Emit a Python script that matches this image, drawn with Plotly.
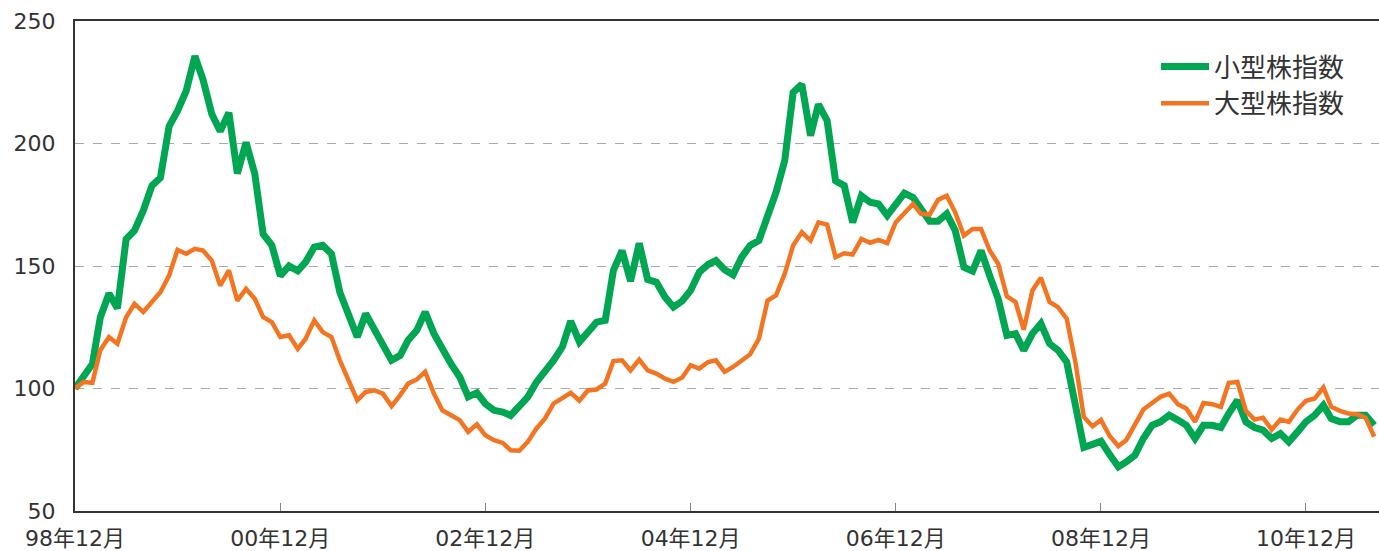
import pandas as pd
import plotly.graph_objects as go

# ---- data (monthly, Dec 1998 = 100) ----
start_month = "1998-12-01"
n_months = 153

small_cap = [
    100, 105, 110, 129, 138.8, 132.7, 161, 164.5, 172.6, 182.8,
    186, 207, 213.3, 221.5, 235.7, 226, 212, 205, 212.6, 187.7,
    200.4, 187.7, 163, 158.4, 146, 150, 148, 151.6, 157.7, 158.4,
    155, 139.3, 130, 121, 130.5, 124.5, 117.6, 111.5, 113.5, 119.7,
    123.7, 131.2, 122.4, 115.6, 110, 104.7, 96.6, 98.2, 93.8, 91.1,
    90.4, 89, 92.4, 96.5, 102.6, 106.7, 111.5, 116.9, 127.5, 119,
    123, 127.1, 127.8, 148.2, 156.3, 143.8, 159.3, 144.5, 143.4, 137.3,
    133.2, 135.7, 140, 147.5, 150.6, 152.2, 148.5, 146.4, 153.6, 158.4,
    160.4, 169.9, 180, 193, 220.8, 224.2, 203.2, 216, 209.3, 184.8,
    182.8, 167.8, 178.7, 176, 175.3, 170.6, 175.3, 179.7, 178, 173.3,
    168.3, 168.3, 171.3, 164.5, 149.5, 147.9, 156.3, 146, 136.6, 121.7,
    122.4, 115.6, 122.4, 126.5, 118.3, 115.6, 110.8, 93.2, 76, 77.2,
    78.5, 73, 68, 70, 72.8, 79.6, 85, 86.4, 89.1, 87.1,
    85, 79.6, 85, 85, 84.1, 89.8, 95.2, 86.4, 84.1, 83,
    79.6, 81.6, 78.2, 82.3, 86.4, 89.1, 93.2, 87.7, 86.4, 86.4,
    89.1, 89.1, 85,
]

large_cap = [
    100, 102.7, 102.3, 115.6, 121, 118.3, 129.1, 134.6, 131.2, 135.3,
    139.3, 146.1, 156.6, 155, 157, 156.3, 152.2, 142, 148.2, 135.9,
    140.7, 136.6, 129.1, 127.1, 121, 121.7, 116.2, 120.3, 127.8, 123,
    121, 111.5, 103.4, 95.2, 98.6, 99.3, 97.9, 92.8, 97.3, 102,
    103.7, 106.8, 97.9, 91.1, 89.1, 87.1, 82.3, 85.4, 80.9, 78.9,
    77.8, 74.8, 74.6, 78.2, 83.7, 87.7, 93.8, 95.9, 98.2, 95,
    99.2, 99.6, 102, 111.2, 111.5, 107.4, 111.8, 107.4, 106.1, 104,
    102.7, 104.5, 109.5, 108.1, 110.8, 111.5, 106.8, 108.8, 111.5, 114,
    120.3, 135.9, 138, 146.8, 158.4, 163.8, 160.4, 167.8, 166.9, 153.6,
    155.2, 154.7, 161.1, 159.5, 160.7, 159.3, 167.8, 171.5, 175.3, 171.3,
    171, 177, 178.7, 171.9, 162.4, 165.1, 165.1, 156.3, 150.9, 137.6,
    135.3, 124, 140, 145.2, 135.3, 133.2, 128.5, 110.8, 88.4, 84.6,
    87.2, 80.6, 76.5, 78.9, 85.7, 91.4, 94.1, 96.6, 97.9, 93.6,
    91.8, 86.4, 94.1, 93.6, 92.5, 102.3, 102.7, 90.9, 87.3, 88.1,
    83.2, 87.3, 86.4, 91.4, 95, 95.9, 100.4, 92.5, 90.9, 89.8,
    89.5, 88.1, 80.3,
]

series_names = ["小型株指数", "大型株指数"]
x_tick_dates = ["1998-12-01", "2000-12-01", "2002-12-01", "2004-12-01",
                "2006-12-01", "2008-12-01", "2010-12-01"]
x_tick_labels = ["98年12月", "00年12月", "02年12月", "04年12月",
                 "06年12月", "08年12月", "10年12月"]
y_tick_vals = [50, 100, 150, 200, 250]

months = pd.date_range(start_month, periods=n_months, freq="MS")

GREEN = "#00A651"
ORANGE = "#F47521"
FONT = "DejaVu Sans, Noto Sans CJK JP, sans-serif"

fig = go.Figure()
fig.add_trace(go.Scatter(x=months, y=small_cap, mode="lines", name=series_names[0],
                         line=dict(color=GREEN, width=7)))
fig.add_trace(go.Scatter(x=months, y=large_cap, mode="lines", name=series_names[1],
                         line=dict(color=ORANGE, width=4.5)))

fig.update_layout(
    width=1379, height=551,
    margin=dict(l=75, r=0, t=21, b=40, autoexpand=False),
    plot_bgcolor="white", paper_bgcolor="white",
    font=dict(family=FONT, size=22, color="#333333"),
    showlegend=True,
    legend=dict(x=0.829, y=0.955, xanchor="left", yanchor="top",
                bgcolor="rgba(0,0,0,0)", itemwidth=48,
                font=dict(family="Noto Sans CJK JP, sans-serif", size=26, color="#333333"),
                tracegroupgap=0),
    xaxis=dict(
        range=["1998-12-01", "2011-08-18"], automargin=False,
        tickvals=x_tick_dates, ticktext=x_tick_labels,
        showgrid=False, zeroline=False,
        showline=True, linecolor="#333333", linewidth=2, mirror=True,
        ticks="inside", ticklen=8, tickwidth=1, tickcolor="#888888",
        ticklabelstandoff=7,
        tickfont=dict(size=22, color="#333333"),
    ),
    yaxis=dict(
        range=[50, 250], tickvals=y_tick_vals, automargin=False,
        showgrid=True, gridcolor="#AAAAAA", gridwidth=1, griddash="dash",
        zeroline=False,
        showline=True, linecolor="#333333", linewidth=2,
        ticks="", ticklabelstandoff=13,
        tickfont=dict(size=22, color="#333333"),
    ),
)

# remove the browser's default 8px page margin so the figure fills the window exactly
fig.write_html(
    "out.html",
    config={"displayModeBar": False},
    post_script="document.body.style.margin='0';"
                "document.documentElement.style.overflow='hidden';",
)
